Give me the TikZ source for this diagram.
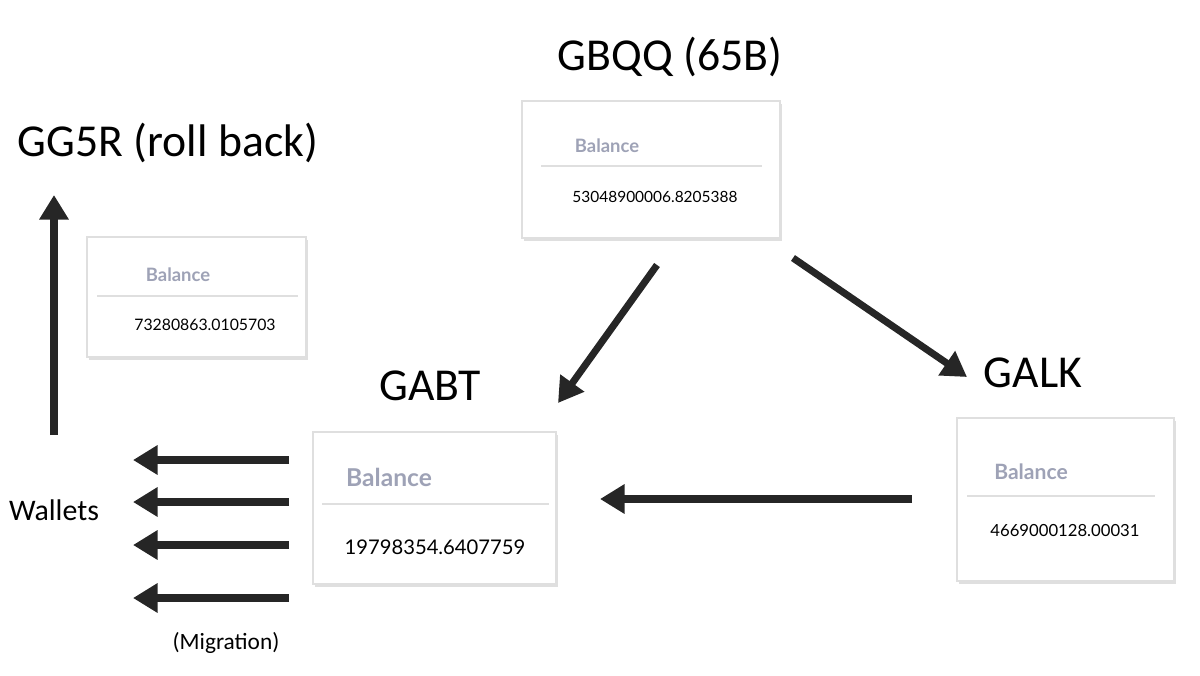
\documentclass[tikz,border=0pt]{standalone}
\usepackage{fontspec}
\setmainfont{Carlito}
\newfontfamily\cardfont{Lato}
\usetikzlibrary{arrows.meta, positioning, calc, shadows}

\definecolor{balgray}{HTML}{9EA2B6}

\tikzset{
  card/.style={draw=gray!25, fill=white, line width=0.6pt,
    drop shadow={shadow xshift=1.2pt, shadow yshift=-1.5pt, opacity=0.25}},
  sep/.style={draw=gray!25, line width=0.8pt},
  title/.style={font=\fontsize{26}{30}\selectfont, text=black},
  flow/.style={-{Triangle[length=14pt, width=16pt]}, line width=4pt, draw=black!85},
}

\begin{document}
\begin{tikzpicture}[x=0.02cm, y=-0.02cm]
  \useasboundingbox (0,0) rectangle (1200,676);

  % Cards
  \draw[card] (522,101) rectangle (780,238);
  \draw[card] (87,237) rectangle (306,357);
  \draw[card] (313,432) rectangle (556,584);
  \draw[card] (957,418) rectangle (1174,581);

  % Separator lines
  \draw[sep] (541,166) -- (762,166);
  \draw[sep] (97,296) -- (298,296);
  \draw[sep] (322,504) -- (549,504);
  \draw[sep] (967,496) -- (1155,496);

  % Balance labels
  \node[font=\cardfont\bfseries\fontsize{10.5}{12}\selectfont, text=balgray] at (607,146) {Balance};
  \node[font=\cardfont\bfseries\fontsize{10.5}{12}\selectfont, text=balgray] at (178,275) {Balance};
  \node[font=\cardfont\bfseries\fontsize{14}{16}\selectfont, text=balgray] at (389,477) {Balance};
  \node[font=\cardfont\bfseries\fontsize{12}{14}\selectfont, text=balgray] at (1031,472) {Balance};

  % Amounts
  \node[font=\cardfont\fontsize{8.8}{10}\selectfont] at (655,197) {53048900006.8205388};
  \node[font=\cardfont\fontsize{9}{10}\selectfont] at (205,325) {73280863.0105703};
  \node[font=\cardfont\fontsize{11.5}{13}\selectfont] at (435,547) {19798354.6407759};
  \node[font=\cardfont\fontsize{9.5}{11}\selectfont] at (1065,531) {4669000128.00031};

  % Titles
  \node[title] (gbqq) at (670,57) {GBQQ (65B)};
  \node[title] (gg5r) at (168,143) {GG5R (roll back)};
  \node[title] (gabt) at (430,386) {GABT};
  \node[title] (galk) at (1033,373) {GALK};
  \node[font=\fontsize{17}{20}\selectfont] (wallets) at (54,510) {Wallets};
  \node[font=\fontsize{13.3}{16}\selectfont] (migr) at (226,643) {(Migration)};

  % Arrow ends
  \coordinate (upA) at (54,435);   \coordinate (upB) at (54,195);
  \coordinate (qA) at (657,265);   \coordinate (qB) at (558,403);
  \coordinate (kA) at (793,258);   \coordinate (kB) at (967,377);
  \coordinate (gA) at (912,499);   \coordinate (gB) at (600,499);

  \draw[flow] (upA) -- (upB);
  \draw[flow] (qA) -- (qB);
  \draw[flow] (kA) -- (kB);
  \draw[flow] (gA) -- (gB);

  % Wallet arrows
  \foreach \y/\n in {460/1, 502/2, 545/3, 598/4} {
    \coordinate (w\n a) at (289,\y);
    \coordinate (w\n b) at (133,\y);
    \draw[flow] (w\n a) -- (w\n b);
  }
\end{tikzpicture}
\end{document}
